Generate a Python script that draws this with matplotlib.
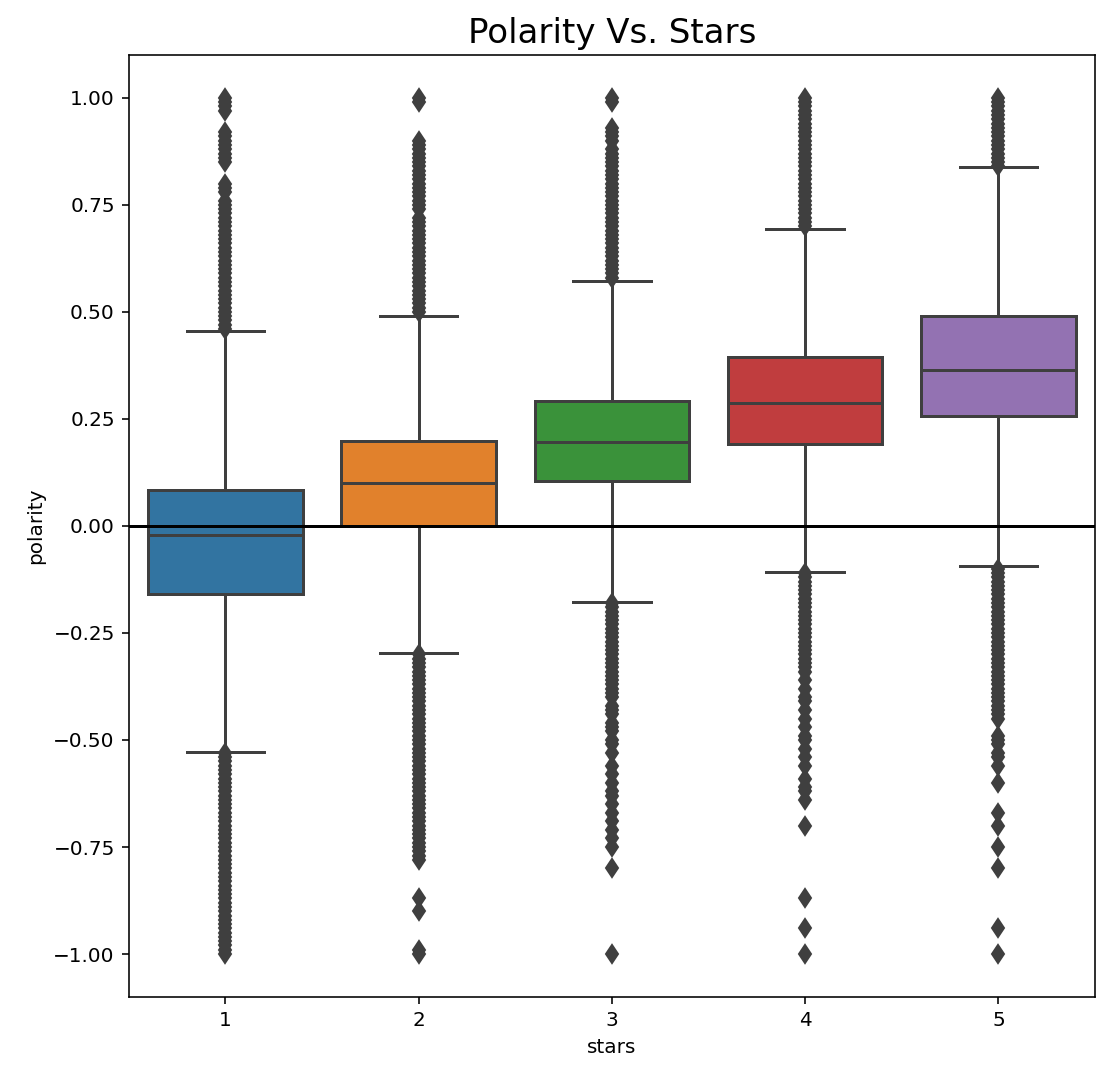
import numpy as np
import matplotlib
matplotlib.use("Agg")
import matplotlib.pyplot as plt

# box statistics (polarity per star rating)
stars = ['1', '2', '3', '4', '5']
q1 = [-0.159, 0.000, 0.105, 0.191, 0.257]
med = [-0.021, 0.100, 0.196, 0.287, 0.364]
q3 = [0.084, 0.198, 0.292, 0.394, 0.490]
whis_lo = [-0.527, -0.296, -0.177, -0.107, -0.093]
whis_hi = [0.455, 0.490, 0.572, 0.693, 0.838]

# outliers (dense columns read as ~0.01 steps)
fliers_1 = [1.00, 0.99, 0.98, 0.97, 0.92, 0.91, 0.90, 0.89, 0.88, 0.87, 0.86, 0.85,
            0.80, 0.79, 0.78, 0.76, 0.75, 0.74, 0.73, 0.72, 0.71, 0.70, 0.69, 0.68,
            0.67, 0.66, 0.65, 0.64, 0.63, 0.62, 0.61, 0.60, 0.59, 0.58, 0.57, 0.56,
            0.55, 0.54, 0.53, 0.52, 0.51, 0.50, 0.49, 0.48, 0.47, 0.46,
            -0.53, -0.54, -0.55, -0.56, -0.57, -0.58, -0.59, -0.60, -0.61, -0.62,
            -0.63, -0.64, -0.65, -0.66, -0.67, -0.68, -0.69, -0.70, -0.71, -0.72,
            -0.73, -0.74, -0.75, -0.76, -0.77, -0.78, -0.79, -0.80, -0.81, -0.82,
            -0.83, -0.84, -0.85, -0.86, -0.87, -0.88, -0.89, -0.90, -0.91, -0.92,
            -0.93, -0.94, -0.95, -0.96, -0.97, -0.98, -0.99, -1.00]
fliers_2 = [1.00, 0.99, 0.90, 0.89, 0.88, 0.87, 0.86, 0.85, 0.84, 0.83, 0.82, 0.81,
            0.80, 0.79, 0.78, 0.77, 0.76, 0.75, 0.74, 0.72, 0.71, 0.70, 0.69, 0.68,
            0.67, 0.66, 0.65, 0.64, 0.63, 0.62, 0.61, 0.60, 0.59, 0.58, 0.57, 0.56,
            0.55, 0.54, 0.53, 0.52, 0.51, 0.50,
            -0.30, -0.31, -0.32, -0.33, -0.34, -0.35, -0.36, -0.37, -0.38, -0.39,
            -0.40, -0.41, -0.42, -0.43, -0.44, -0.45, -0.46, -0.47, -0.48, -0.49,
            -0.50, -0.51, -0.52, -0.53, -0.54, -0.55, -0.56, -0.57, -0.58, -0.59,
            -0.60, -0.61, -0.62, -0.63, -0.64, -0.65, -0.66, -0.67, -0.68, -0.69,
            -0.70, -0.71, -0.72, -0.73, -0.74, -0.75, -0.76, -0.77, -0.78,
            -0.87, -0.90, -0.99, -1.00]
fliers_3 = [1.00, 0.99, 0.93, 0.92, 0.91, 0.90, 0.88, 0.87, 0.86, 0.85, 0.84, 0.83,
            0.82, 0.81, 0.80, 0.79, 0.78, 0.77, 0.76, 0.75, 0.74, 0.73, 0.72, 0.71,
            0.70, 0.69, 0.68, 0.67, 0.66, 0.65, 0.64, 0.63, 0.62, 0.61, 0.60, 0.59,
            0.58,
            -0.18, -0.19, -0.20, -0.21, -0.22, -0.23, -0.24, -0.25, -0.26, -0.27,
            -0.28, -0.29, -0.30, -0.31, -0.32, -0.33, -0.34, -0.35, -0.36, -0.37,
            -0.38, -0.39, -0.40, -0.42, -0.43, -0.44, -0.46, -0.47, -0.48, -0.50,
            -0.51, -0.53, -0.56, -0.58, -0.60, -0.62, -0.63, -0.65, -0.67, -0.69,
            -0.71, -0.73, -0.75, -0.80, -1.00]
fliers_4 = [1.00, 0.99, 0.98, 0.97, 0.96, 0.95, 0.94, 0.93, 0.92, 0.91, 0.90, 0.89,
            0.88, 0.87, 0.86, 0.85, 0.84, 0.83, 0.82, 0.81, 0.80, 0.79, 0.78, 0.77,
            0.76, 0.75, 0.74, 0.73, 0.72, 0.71, 0.70,
            -0.11, -0.12, -0.13, -0.14, -0.15, -0.16, -0.17, -0.18, -0.19, -0.20,
            -0.21, -0.22, -0.23, -0.24, -0.25, -0.26, -0.27, -0.28, -0.29, -0.30,
            -0.31, -0.32, -0.33, -0.34, -0.36, -0.38, -0.40, -0.41, -0.43, -0.45,
            -0.47, -0.49, -0.50, -0.52, -0.54, -0.56, -0.59, -0.61, -0.62, -0.64,
            -0.70, -0.87, -0.94, -1.00]
fliers_5 = [1.00, 0.99, 0.98, 0.97, 0.96, 0.95, 0.94, 0.93, 0.92, 0.91, 0.90, 0.89,
            0.88, 0.87, 0.86, 0.85, 0.84,
            -0.10, -0.11, -0.12, -0.13, -0.14, -0.15, -0.16, -0.17, -0.18, -0.19,
            -0.20, -0.21, -0.22, -0.23, -0.24, -0.25, -0.26, -0.27, -0.28, -0.29,
            -0.30, -0.31, -0.32, -0.33, -0.34, -0.35, -0.36, -0.37, -0.38, -0.39,
            -0.40, -0.41, -0.42, -0.43, -0.44, -0.45, -0.49, -0.50, -0.51, -0.53,
            -0.54, -0.56, -0.60, -0.67, -0.70, -0.75, -0.80, -0.94, -1.00]
fliers = [fliers_1, fliers_2, fliers_3, fliers_4, fliers_5]

colors = ['#3274a1', '#e1812c', '#3a923a', '#c03d3e', '#9372b2']
yticks = [-1.00, -0.75, -0.50, -0.25, 0.00, 0.25, 0.50, 0.75, 1.00]

gray = '#3f3f3f'

fig = plt.figure(figsize=(1110 / 144, 1080 / 144), dpi=144)
ax = fig.add_axes([0.116, 0.077, 0.8705, 0.872])

stats = []
for i in range(len(stars)):
    stats.append({'med': med[i], 'q1': q1[i], 'q3': q3[i],
                  'whislo': whis_lo[i], 'whishi': whis_hi[i],
                  'fliers': np.array(fliers[i])})

bp = ax.bxp(stats, positions=range(len(stars)), widths=0.8, capwidths=0.4,
            patch_artist=True,
            boxprops=dict(edgecolor=gray, linewidth=1.5),
            medianprops=dict(color=gray, linewidth=1.5),
            whiskerprops=dict(color=gray, linewidth=1.5),
            capprops=dict(color=gray, linewidth=1.5),
            flierprops=dict(marker='d', markerfacecolor=gray, markeredgecolor=gray,
                            markersize=6.5, markeredgewidth=1, linestyle='none'))
for patch, c in zip(bp['boxes'], colors):
    patch.set_facecolor(c)

ax.axhline(0, color='black', linewidth=1.5)

ax.set_xlim(-0.5, 4.5)
ax.set_ylim(-1.1, 1.1)
ax.set_xticks(range(len(stars)))
ax.set_xticklabels(stars)
ax.set_yticks(yticks)
ax.set_yticklabels([('%.2f' % t).replace('-', '\u2212') if t != 0 else '0.00' for t in yticks])
ax.set_xlabel('stars')
ax.set_ylabel('polarity')
ax.set_title('Polarity Vs. Stars', fontsize=17)

fig.savefig('out.png', dpi=144)
